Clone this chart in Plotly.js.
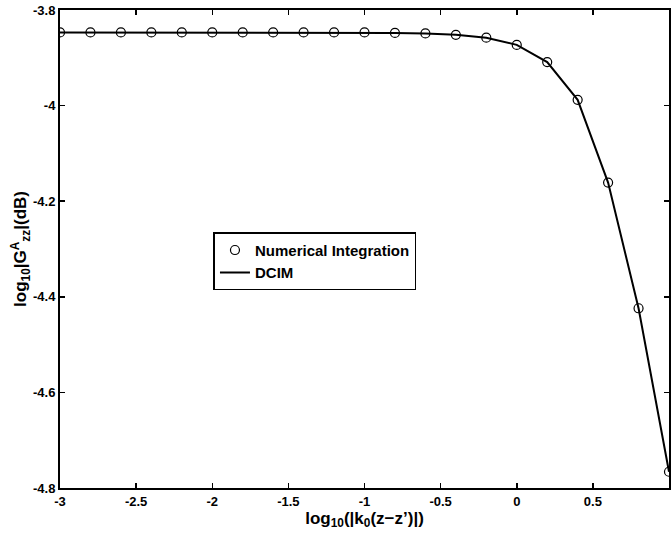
<!DOCTYPE html>
<html>
<head>
<meta charset="utf-8">
<script src="https://cdn.plot.ly/plotly-3.0.1.min.js"></script>
<style>html,body{margin:0;padding:0;background:#fff;}#chart{width:671px;height:540px;}</style>
</head>
<body>
<div id="chart"></div>
<script>
const xVals = [-3, -2.8, -2.6, -2.4, -2.2, -2, -1.8, -1.6, -1.4, -1.2, -1, -0.8, -0.6, -0.4, -0.2, 0, 0.2, 0.4, 0.6, 0.8, 1];
const numericalVals = [-3.847, -3.847, -3.847, -3.847, -3.847, -3.847, -3.847, -3.847, -3.847, -3.847, -3.847, -3.848, -3.849, -3.852, -3.858, -3.873, -3.909, -3.988, -4.161, -4.424, -4.766];
const dcimVals = [-3.847, -3.847, -3.847, -3.847, -3.847, -3.847, -3.847, -3.847, -3.847, -3.847, -3.847, -3.848, -3.849, -3.852, -3.858, -3.873, -3.909, -3.988, -4.161, -4.424, -4.766];
const xTicks = [-3, -2.5, -2, -1.5, -1, -0.5, 0, 0.5, 1];
const xTickText = ['-3', '-2.5', '-2', '-1.5', '-1', '-0.5', '0', '0.5', '1'];
const yTicks = [-4.8, -4.6, -4.4, -4.2, -4, -3.8];
const yTickText = ['-4.8', '-4.6', '-4.4', '-4.2', '-4', '-3.8'];

const font = {family: '"Liberation Sans", Arial, sans-serif', color: '#000'};

const traces = [
  {x: xVals, y: numericalVals, name: '<b>Numerical Integration</b>', mode: 'markers', type: 'scatter',
   marker: {symbol: 'circle-open', size: 9, color: '#000', line: {width: 1.2, color: '#000'}}},
  {x: xVals, y: dcimVals, name: '<b>DCIM</b>', mode: 'lines', type: 'scatter',
   line: {color: '#000', width: 2}}
];

const axisCommon = {
  showgrid: false, zeroline: false, showline: true, mirror: 'ticks', linecolor: '#000', linewidth: 2,
  ticks: 'inside', ticklen: 5, tickwidth: 1.5, tickcolor: '#000', tickmode: 'array',
  tickfont: Object.assign({}, font, {size: 13, weight: 'bold'})
};

const layout = {
  width: 671, height: 540,
  margin: {l: 60, r: 2, t: 10, b: 52},
  paper_bgcolor: '#fff', plot_bgcolor: '#fff',
  font: font,
  showlegend: true,
  legend: {x: 0.252, y: 0.535, xanchor: 'left', yanchor: 'top', bgcolor: '#fff', bordercolor: '#000', borderwidth: 1.5,
           font: Object.assign({}, font, {size: 15}), tracegroupgap: 0, itemwidth: 30},
  xaxis: Object.assign({}, axisCommon, {range: [-3, 1], tickvals: xTicks, ticktext: xTickText,
    title: {text: '<b>log<sub>10</sub>(|k<sub>0</sub>(z\u2212z\u2019)|)</b>', font: Object.assign({}, font, {size: 17}), standoff: 2}}),
  yaxis: Object.assign({}, axisCommon, {range: [-4.8, -3.8], tickvals: yTicks, ticktext: yTickText,
    title: {text: '<b>log<sub>10</sub>|G<sup>A</sup><sub>zz</sub>|(dB)</b>', font: Object.assign({}, font, {size: 17}), standoff: 2}})
};

Plotly.newPlot('chart', traces, layout, {displayModeBar: false, staticPlot: true});
</script>
</body>
</html>
